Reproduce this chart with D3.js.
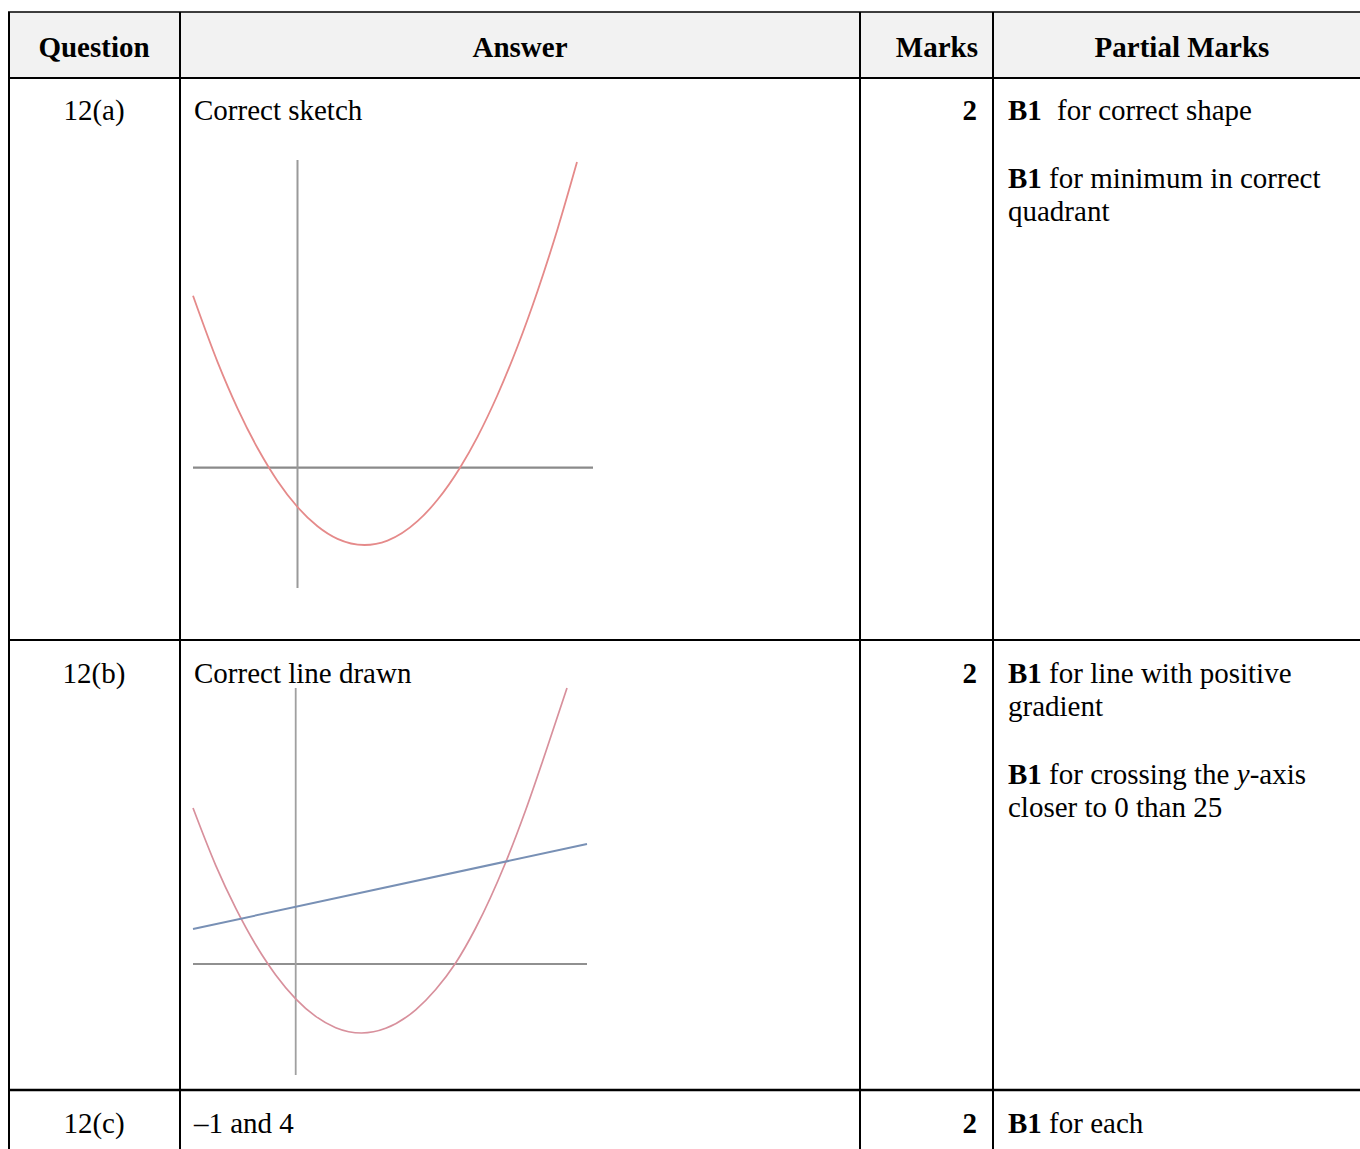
<!DOCTYPE html>
<html>
<head>
  <meta charset="utf-8">
  <title>Mark scheme 12</title>
  <script src="https://d3js.org/d3.v7.min.js"></script>
  <style>
    body { margin: 0; background: #fff; }
    svg text { font-family: "Liberation Serif", "Times New Roman", serif; font-size: 29px; fill: #000; }
    .head { font-weight: bold; }
    .grid { stroke: #000; stroke-width: 2; }
  </style>
</head>
<body>
  <svg width="1360" height="1149"></svg>
  <script>
    // table content
    var headers = ["Question", "Answer", "Marks", "Partial Marks"];
    var questions = ["12(a)", "12(b)", "12(c)"];
    var answers = ["Correct sketch", "Correct line drawn", "\u20131 and 4"];
    var marks = [2, 2, 2];

    // sketch (a): axis extents and points
    var aAxisX = [-10.45, 29.55];
    var aAxisY = [-12.03, 30.77];
    var aCurveX = [-10.45, -8, -6, -4, -2.85, -2, 0, 2, 4, 6.7, 9, 12, 14, 16.25, 18, 20, 22, 24, 26, 27.95];
    var aCurveY = [17.2, 10.59, 5.94, 1.97, 0, -1.32, -3.93, -5.86, -7.12, -7.73, -7.29, -5.35, -3.21, 0, 3.09, 7.27, 12.12, 17.65, 23.85, 30.56];

    // sketch (b)
    var bAxisX = [-10.27, 29.13];
    var bAxisY = [-11.1, 27.6];
    var bCurveX = [-10.27, -8, -6, -4, -2.77, -2, 0, 2, 4, 6.58, 9, 12, 14, 15.93, 18, 20.93, 23, 25, 27.13];
    var bCurveY = [15.6, 9.87, 5.59, 1.93, 0, -1.09, -3.48, -5.24, -6.37, -6.9, -6.43, -4.58, -2.55, 0, 3.6, 10.0, 15.4, 21.2, 27.6];
    var bLineX = [-10.27, 29.13];
    var bLineY = [3.5, 12.0];

    var svg = d3.select("svg");

    // header background
    svg.append("rect").attr("x", 9).attr("y", 12).attr("width", 1360).attr("height", 66).attr("fill", "#f2f2f2");

    // grid lines
    var colX = [9, 180, 860, 993];
    var rowY = [12, 78, 640, 1090];
    colX.forEach(function(x) {
      svg.append("line").attr("class", "grid").attr("x1", x).attr("x2", x).attr("y1", 12).attr("y2", 1149);
    });
    rowY.forEach(function(y, i) {
      svg.append("line").attr("class", "grid").attr("x1", 8).attr("x2", 1360).attr("y1", y).attr("y2", y)
        .style("stroke-width", i == 0 ? 1.5 : (i == 3 ? 2.5 : 2));
    });

    // headers
    var headPos = [[94, "middle"], [520, "middle"], [978, "end"], [1182, "middle"]];
    headers.forEach(function(h, i) {
      svg.append("text").attr("class", "head").attr("x", headPos[i][0]).attr("y", 57)
        .attr("text-anchor", headPos[i][1]).text(h);
    });

    var rowBase = [120, 683, 1133];
    questions.forEach(function(q, i) {
      svg.append("text").attr("x", 94).attr("y", rowBase[i]).attr("text-anchor", "middle").text(q);
      svg.append("text").attr("x", 194).attr("y", rowBase[i]).text(answers[i]);
      svg.append("text").attr("class", "head").attr("x", 977).attr("y", rowBase[i]).attr("text-anchor", "end").text(marks[i]);
    });

    // partial marks text
    function pm(y, bold, rest, gap) {
      var t = svg.append("text").attr("x", 1008).attr("y", y);
      if (bold) t.append("tspan").attr("class", "head").text(bold);
      if (typeof rest == "string") {
        t.append("tspan").attr("dx", gap || 0).text(rest);
      } else if (rest) {
        rest.forEach(function(r) {
          var s = t.append("tspan").text(r[0]);
          if (r[1]) s.style("font-style", "italic");
        });
      }
      return t;
    }
    pm(120, "B1", " for correct shape", 8);
    pm(188, "B1", " for minimum in correct");
    pm(221, null, "quadrant");
    pm(683, "B1", " for line with positive");
    pm(716, null, "gradient");
    pm(784, "B1", [[" for crossing the "], ["y", true], ["-axis"]]);
    pm(817, null, "closer to 0 than 25");
    pm(1133, "B1", " for each");

    // sketch (a)
    var xA = d3.scaleLinear().domain(aAxisX).range([193, 593]);
    var yA = d3.scaleLinear().domain(aAxisY).range([588, 160]);
    var gA = svg.append("g");
    gA.append("line").attr("x1", xA(aAxisX[0])).attr("x2", xA(aAxisX[1])).attr("y1", yA(0)).attr("y2", yA(0))
      .attr("stroke", "#8a8a8a").attr("stroke-width", 2.2);
    gA.append("line").attr("x1", xA(0)).attr("x2", xA(0)).attr("y1", yA(aAxisY[0])).attr("y2", yA(aAxisY[1]))
      .attr("stroke", "#9a9a9a").attr("stroke-width", 2);
    var lineA = d3.line().x(function(d) { return xA(d[0]); }).y(function(d) { return yA(d[1]); }).curve(d3.curveMonotoneX);
    gA.append("path").datum(d3.zip(aCurveX, aCurveY)).attr("d", lineA)
      .attr("fill", "none").attr("stroke", "#e58a8a").attr("stroke-width", 1.8);

    // sketch (b)
    var xB = d3.scaleLinear().domain(bAxisX).range([193, 587]);
    var yB = d3.scaleLinear().domain(bAxisY).range([1075, 688]);
    var gB = svg.append("g");
    gB.append("line").attr("x1", xB(bAxisX[0])).attr("x2", xB(bAxisX[1])).attr("y1", yB(0)).attr("y2", yB(0))
      .attr("stroke", "#909090").attr("stroke-width", 1.8);
    gB.append("line").attr("x1", xB(0)).attr("x2", xB(0)).attr("y1", yB(bAxisY[0])).attr("y2", yB(bAxisY[1]))
      .attr("stroke", "#a0a0a0").attr("stroke-width", 1.8);
    var lineB = d3.line().x(function(d) { return xB(d[0]); }).y(function(d) { return yB(d[1]); }).curve(d3.curveMonotoneX);
    gB.append("path").datum(d3.zip(bCurveX, bCurveY)).attr("d", lineB)
      .attr("fill", "none").attr("stroke", "#d8909c").attr("stroke-width", 1.7);
    gB.append("path").datum(d3.zip(bLineX, bLineY)).attr("d", lineB.curve(d3.curveLinear))
      .attr("fill", "none").attr("stroke", "#7890b5").attr("stroke-width", 2);
  </script>
</body>
</html>
